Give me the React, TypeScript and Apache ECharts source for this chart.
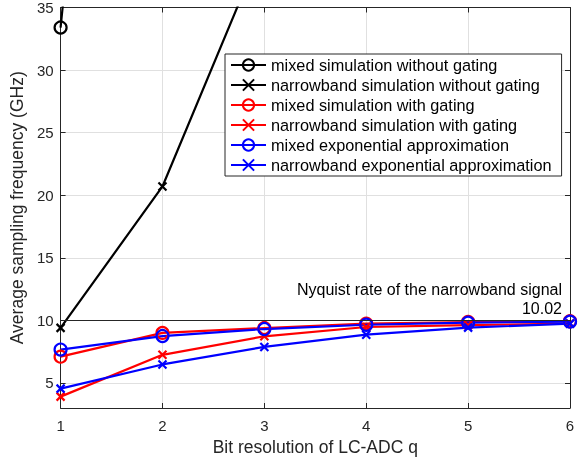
import React, { useEffect, useRef } from "react";
import * as echarts from "echarts";

const bits = [1, 2, 3, 4, 5, 6];
const yTicks = [5, 10, 15, 20, 25, 30, 35];
const mixedNoGating = [33.4, 114, 190, 260, 330, 400];
const narrowNoGating = [9.4, 20.7, 40.2, 70, 110, 160];
const mixedGating = [7.1, 9.0, 9.39, 9.74, 9.87, 9.93];
const narrowGating = [3.91, 7.25, 8.73, 9.47, 9.62, 9.75];
const mixedExp = [7.67, 8.75, 9.31, 9.65, 9.82, 9.9];
const narrowExp = [4.55, 6.48, 7.88, 8.86, 9.42, 9.74];
const nyquist = 10.02;
const nyquistLabel = "Nyquist rate of the narrowband signal";

const xPath = "path://M0,0L10,10M10,0L0,10";

export default function App() {
  const ref = useRef<HTMLDivElement>(null);
  useEffect(() => {
    const chart = echarts.init(ref.current!, null, { renderer: "svg" });
    const font = "'Liberation Sans', Arial, Helvetica, sans-serif";
    const axisColor = "#262626";
    const mk = (name: string, vals: number[], color: string, circle: boolean, extra: any = {}) => ({
      name,
      type: "line",
      data: bits.map((b, i) => [b, vals[i]]),
      symbol: circle ? "circle" : xPath,
      symbolSize: circle ? 12 : 8,
      showSymbol: true,
      clip: true,
      lineStyle: { color, width: 2.2 },
      itemStyle: { color: circle ? "rgba(0,0,0,0)" : color, borderColor: color, borderWidth: 2.2 },
      emphasis: { disabled: true },
      ...extra,
    });
    chart.setOption({
      animation: false,
      textStyle: { fontFamily: font },
      grid: { left: 60, right: 13, top: 5, bottom: 54 },
      legend: {
        orient: "vertical",
        left: 225,
        top: 54,
        backgroundColor: "#fff",
        borderColor: axisColor,
        borderWidth: 1,
        padding: [3, 10, 3, 5],
        itemWidth: 35,
        itemHeight: 14,
        itemGap: 4,
        itemTextGap: 5,
        textStyle: { fontSize: 16.3, color: "#000", fontFamily: font },
        data: [
          "mixed simulation without gating",
          "narrowband simulation without gating",
          "mixed simulation with gating",
          "narrowband simulation with gating",
          "mixed exponential approximation",
          "narrowband exponential approximation",
        ],
      },
      xAxis: [
        {
          type: "value",
          min: 1,
          max: 6,
          interval: 1,
          name: "Bit resolution of LC-ADC q",
          nameLocation: "middle",
          nameGap: 29,
          nameTextStyle: { fontSize: 17.5, color: axisColor },
          axisLine: { lineStyle: { color: axisColor, width: 1 } },
          axisTick: { inside: true, length: 5, lineStyle: { color: axisColor } },
          axisLabel: { fontSize: 15, color: axisColor, margin: 10 },
          splitLine: { show: true, lineStyle: { color: "#e0e0e0", width: 1 } },
        },
        {
          type: "value",
          position: "top",
          min: 1,
          max: 6,
          interval: 1,
          axisLine: { show: true, lineStyle: { color: axisColor, width: 1 } },
          axisTick: { inside: true, length: 5, lineStyle: { color: axisColor } },
          axisLabel: { show: false },
          splitLine: { show: false },
        },
      ],
      yAxis: [
        {
          type: "value",
          min: 3,
          max: 35,
          name: "Average sampling frequency (GHz)",
          nameLocation: "middle",
          nameGap: 27,
          nameTextStyle: { fontSize: 17.5, color: axisColor },
          axisLine: { show: true, lineStyle: { color: axisColor, width: 1 } },
          axisTick: { show: true, inside: true, length: 5, customValues: yTicks, lineStyle: { color: axisColor } },
          axisLabel: { fontSize: 15, color: axisColor, customValues: yTicks, margin: 7 },
          splitLine: { show: true, lineStyle: { color: "#e0e0e0", width: 1 } },
        },
        {
          type: "value",
          position: "right",
          min: 3,
          max: 35,
          axisLine: { show: true, lineStyle: { color: axisColor, width: 1 } },
          axisTick: { show: true, inside: true, length: 5, customValues: yTicks, lineStyle: { color: axisColor } },
          axisLabel: { show: false, customValues: yTicks },
          splitLine: { show: false },
        },
      ],
      series: [
        mk("mixed simulation without gating", mixedNoGating, "#000", true, {
          markLine: {
            silent: true,
            symbol: "none",
            lineStyle: { color: axisColor, width: 1.2, type: "solid" },
            label: {
              show: true,
              position: "insideEndTop",
              formatter: nyquistLabel + "\n" + nyquist.toFixed(2),
              fontSize: 16,
              color: "#000",
              align: "right",
              lineHeight: 19,
              distance: [8, 2],
              fontFamily: font,
            },
            data: [{ yAxis: nyquist }],
          },
        }),
        mk("narrowband simulation without gating", narrowNoGating, "#000", false),
        mk("mixed simulation with gating", mixedGating, "#ff0000", true),
        mk("narrowband simulation with gating", narrowGating, "#ff0000", false),
        mk("mixed exponential approximation", mixedExp, "#0000ff", true),
        mk("narrowband exponential approximation", narrowExp, "#0000ff", false),
      ],
    });
    return () => chart.dispose();
  }, []);
  return <div ref={ref} style={{ position: "fixed", left: 0, top: 0, width: 583, height: 462 }} />;
}
